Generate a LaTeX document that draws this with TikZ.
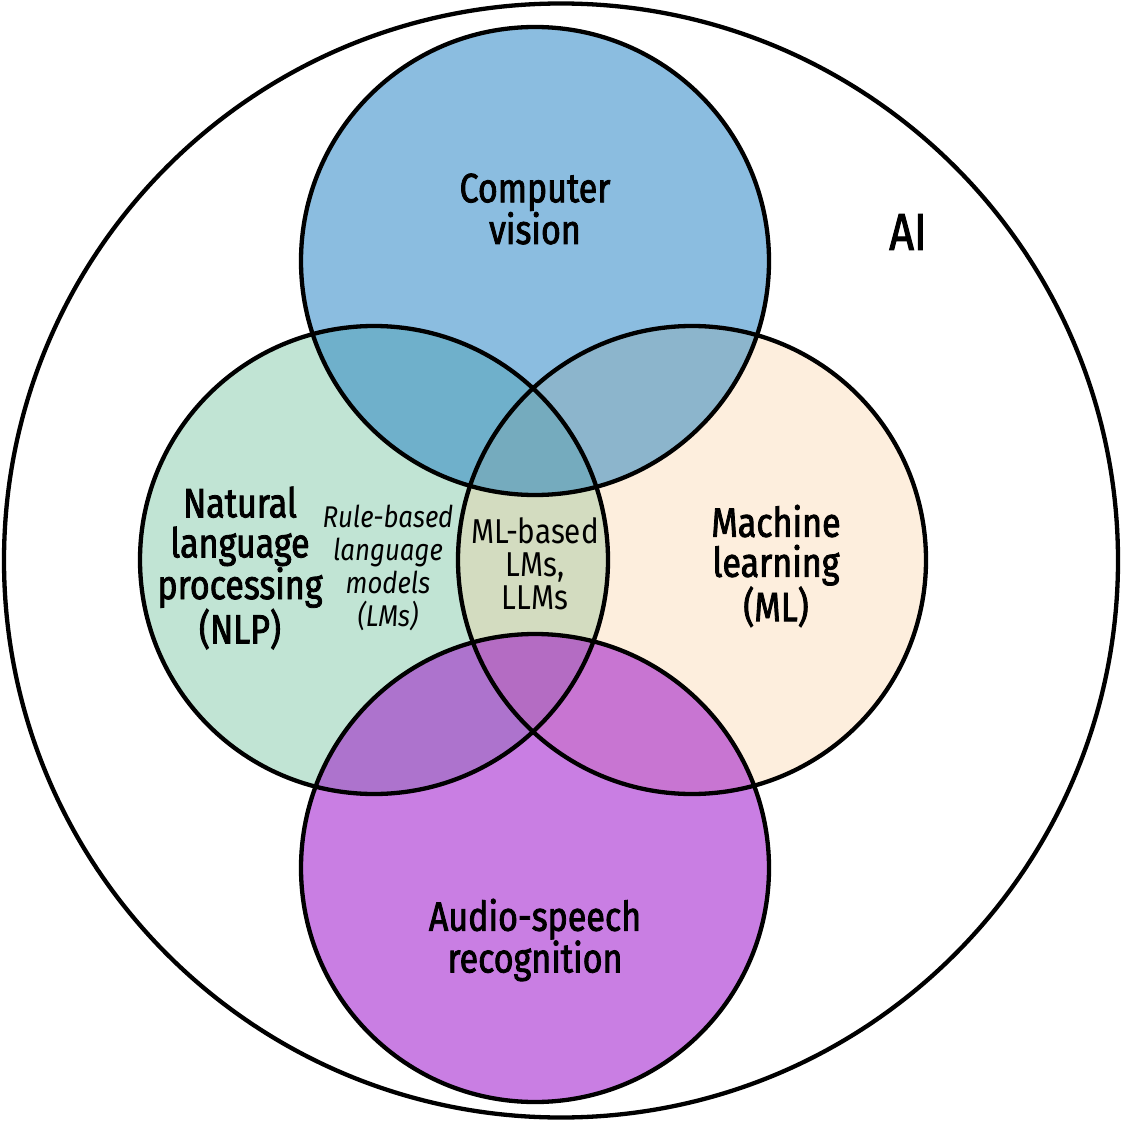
\documentclass[tikz,border=0pt]{standalone}
\usepackage{fontspec}
\setmainfont{Fira Sans}[FakeStretch=0.86]
\newfontfamily\labfont{Fira Sans}[FakeStretch=0.83, FakeBold=2]
\definecolor{cvC}{RGB}{139,189,224}
\definecolor{nlpC}{RGB}{193,228,212}
\definecolor{mlC}{RGB}{253,238,221}
\definecolor{auC}{RGB}{201,126,227}
\definecolor{cvnlpC}{RGB}{111,176,203}
\definecolor{cvmlC}{RGB}{140,181,204}
\definecolor{nlpmlC}{RGB}{211,220,192}
\definecolor{cvnlpmlC}{RGB}{117,171,190}
\definecolor{aunlpC}{RGB}{173,115,205}
\definecolor{aumlC}{RGB}{200,117,210}
\definecolor{aunlpmlC}{RGB}{180,108,195}
\begin{document}
\begin{tikzpicture}[x=1pt,y=-1pt,
  outline/.style={draw=black,line width=4.3pt},
  biglabel/.style={align=center,inner sep=0pt,font=\labfont\fontsize{41}{40}\selectfont},
  midlabel/.style={align=center,inner sep=0pt,font=\fontsize{34.5}{33}\selectfont},
  itlabel/.style={align=center,inner sep=0pt,font=\itshape\fontsize{30}{33}\selectfont}]
\useasboundingbox (0,0) rectangle (1124,1123);
\def\cCV{(535,261) circle (234pt)}
\def\cNLP{(374,560) circle (234pt)}
\def\cML{(692,560) circle (234pt)}
\def\cAU{(535,868) circle (234pt)}
% base fills
\fill[nlpC] \cNLP;
\fill[mlC] \cML;
\begin{scope}\clip \cNLP; \fill[nlpmlC] \cML; \end{scope}
\fill[cvC] \cCV;
\begin{scope}\clip \cCV;
  \fill[cvnlpC] \cNLP;
  \fill[cvmlC] \cML;
  \begin{scope}\clip \cNLP; \fill[cvnlpmlC] \cML; \end{scope}
\end{scope}
\fill[auC] \cAU;
\begin{scope}\clip \cAU;
  \fill[aunlpC] \cNLP;
  \fill[aumlC] \cML;
  \begin{scope}\clip \cNLP; \fill[aunlpmlC] \cML; \end{scope}
\end{scope}
% outlines
\draw[outline] (561,560.5) circle (557pt);
\draw[outline] \cCV;
\draw[outline] \cNLP;
\draw[outline] \cML;
\draw[outline] \cAU;
% labels
\node[biglabel] (cv) at (535,209) {Computer\\vision};
\node[biglabel] (nlp) at (240,568) {Natural\\language\\processing\\(NLP)};
\node[itlabel] (rule) at (388,568) {Rule-based\\language\\models\\(LMs)};
\node[midlabel] (mlb) at (535,564) {ML-based\\LMs,\\LLMs};
\node[biglabel] (ml) at (776,566) {Machine\\learning\\(ML)};
\node[biglabel] (au) at (535,940) {Audio-speech\\recognition};
\node[font=\labfont\fontsize{52}{52}\selectfont,inner sep=0pt] (ai) at (908,232) {AI};
\end{tikzpicture}
\end{document}
